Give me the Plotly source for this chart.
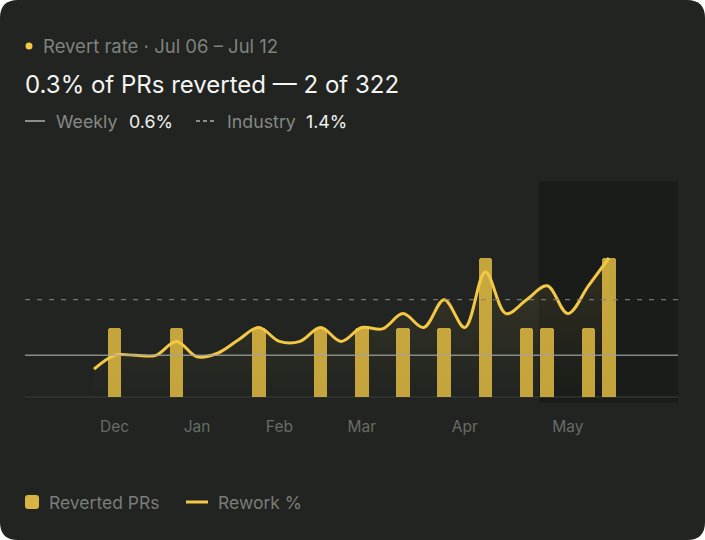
import plotly.graph_objects as go

# weekly data, week 0 = last week of Nov
WEEKS = list(range(26))
REVERTED = [0, 1, 0, 0, 1, 0, 0, 0, 1, 0, 0, 1, 0, 1, 0, 1, 0, 1, 0, 2, 0, 1, 1, 0, 1, 2]
REWORK_PCT = [0.4, 0.6, 0.6, 0.6, 0.8, 0.58, 0.63, 0.82, 1.0, 0.8, 0.8, 1.0, 0.8, 1.0,
              0.98, 1.2, 1.0, 1.4, 1.0, 1.8, 1.2, 1.4, 1.6, 1.2, 1.6, 2.0]
MONTH_TICKS = [1, 5, 9, 13, 18, 23]
MONTH_LABELS = ["Dec", "Jan", "Feb", "Mar", "Apr", "May"]
WEEKLY_RATE = 0.6
INDUSTRY_RATE = 1.4
HIGHLIGHT_START = 21.6

W, H = 705, 540
ML, MR, MT, MB = 25, 27, 181, 137
PW, PH = W - ML - MR, H - MT - MB

BG = "#212421"
YELLOW = "#f4c844"
GRAY = "#80837f"
FONT = "Inter, Noto Sans, sans-serif"


def xp(px):
    return (px - ML) / PW


def yp(py):
    return (H - MB - py) / PH


fig = go.Figure()

fig.add_trace(go.Bar(
    x=WEEKS, y=REVERTED, width=0.66,
    marker=dict(color="rgba(228,190,66,0.84)", cornerradius=3, line=dict(width=0)),
    hoverinfo="skip",
))

fig.add_trace(go.Scatter(
    x=WEEKS, y=REWORK_PCT, mode="lines",
    line=dict(color=YELLOW, width=3, shape="spline", smoothing=1.0),
    fill="tozeroy",
    fillgradient=dict(type="vertical",
                      colorscale=[[0, "rgba(242,201,76,0.0)"], [1, "rgba(242,201,76,0.11)"]]),
    hoverinfo="skip",
))

# rounded card
x0, x1, y0, y1 = xp(0), xp(W), yp(H), yp(0)
rx, ry = 18 / PW, 18 / PH
card = (f"M {x0+rx},{y1} L {x1-rx},{y1} Q {x1},{y1} {x1},{y1-ry} "
        f"L {x1},{y0+ry} Q {x1},{y0} {x1-rx},{y0} L {x0+rx},{y0} "
        f"Q {x0},{y0} {x0},{y0+ry} L {x0},{y1-ry} Q {x0},{y1} {x0+rx},{y1} Z")

shapes = [
    dict(type="path", path=card, xref="paper", yref="paper",
         fillcolor=BG, line=dict(width=0), layer="below"),
    dict(type="rect", xref="x", yref="paper", x0=HIGHLIGHT_START, x1=28.35, y0=0, y1=1,
         fillcolor="#1a1c1a", line=dict(width=0), layer="below"),
    dict(type="line", xref="paper", yref="y", x0=0, x1=1, y0=0, y1=0,
         line=dict(color="#3b3e3a", width=1.2), layer="below"),
    dict(type="line", xref="paper", yref="y", x0=0, x1=1, y0=WEEKLY_RATE, y1=WEEKLY_RATE,
         line=dict(color="rgba(160,163,158,0.8)", width=1.5), layer="above"),
    dict(type="line", xref="paper", yref="y", x0=0, x1=1, y0=INDUSTRY_RATE, y1=INDUSTRY_RATE,
         line=dict(color="rgba(130,133,128,0.85)", width=1.3, dash="5px,7px"), layer="above"),
    # header dot
    dict(type="circle", xref="paper", yref="paper",
         x0=xp(25.5), x1=xp(32.5), y0=yp(49.5), y1=yp(42.5),
         fillcolor=YELLOW, line=dict(width=0)),
    # header key lines
    dict(type="line", xref="paper", yref="paper", x0=xp(25), x1=xp(45), y0=yp(121), y1=yp(121),
         line=dict(color="#8a8d89", width=2)),
    dict(type="line", xref="paper", yref="paper", x0=xp(196), x1=xp(216), y0=yp(121), y1=yp(121),
         line=dict(color="#8a8d89", width=2, dash="4px,3px")),
    # bottom legend keys
    dict(type="path", xref="paper", yref="paper",
         path=(f"M {xp(28)},{yp(495)} L {xp(36)},{yp(495)} Q {xp(39)},{yp(495)} {xp(39)},{yp(498)} "
               f"L {xp(39)},{yp(506)} Q {xp(39)},{yp(509)} {xp(36)},{yp(509)} L {xp(28)},{yp(509)} "
               f"Q {xp(25)},{yp(509)} {xp(25)},{yp(506)} L {xp(25)},{yp(498)} "
               f"Q {xp(25)},{yp(495)} {xp(28)},{yp(495)} Z"),
         fillcolor="#d9b443", line=dict(width=0)),
    dict(type="line", xref="paper", yref="paper", x0=xp(186), x1=xp(208), y0=yp(502), y1=yp(502),
         line=dict(color=YELLOW, width=3)),
]


def label(px, py, text, size=17.5, color=GRAY):
    return dict(x=xp(px), y=yp(py), xref="paper", yref="paper", text=text, showarrow=False,
                xanchor="left", yanchor="middle", font=dict(family=FONT, size=size, color=color))


annotations = [
    label(41, 46, "Revert rate · Jul 06 – Jul 12", 18.5, "#7f827e"),
    label(23, 84, "0.3% of PRs reverted — 2 of 322", 24, "#f4f4f2"),
    label(54, 121, "Weekly", 17.8, "#868985"),
    label(127, 121, "0.6%", 17.8, "#f0f0ee"),
    label(225, 121, "Industry", 17.8, "#868985"),
    label(304, 121, "1.4%", 17.8, "#f0f0ee"),
    label(47, 502, "Reverted PRs", 17.5, "#7a7d79"),
    label(216, 502, "Rework %", 17.5, "#7a7d79"),
]

fig.update_layout(
    width=W, height=H,
    margin=dict(l=ML, r=MR, t=MT, b=MB),
    paper_bgcolor="white",
    plot_bgcolor="rgba(0,0,0,0)",
    showlegend=False,
    bargap=0,
    shapes=shapes,
    annotations=annotations,
    font=dict(family=FONT),
    xaxis=dict(range=[-3.35, 28.35], showgrid=False, zeroline=False, showline=False,
               tickvals=MONTH_TICKS, ticktext=MONTH_LABELS, ticks="outside", ticklen=9,
               tickcolor="rgba(0,0,0,0)", tickfont=dict(size=15.5, color="#686c67")),
    yaxis=dict(range=[-0.086, 3.108], showgrid=False, zeroline=False, showline=False,
               showticklabels=False),
)

fig.write_html("out.html", config={"displayModeBar": False},
               post_script="document.body.style.margin='0';")
